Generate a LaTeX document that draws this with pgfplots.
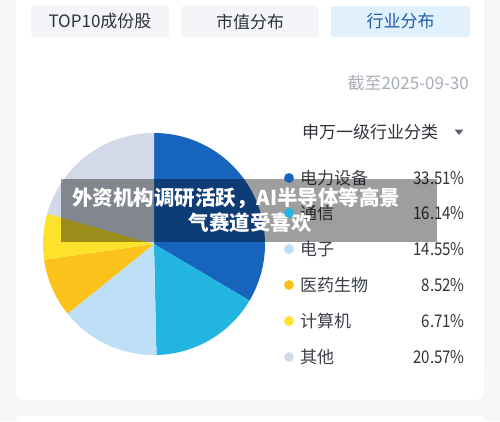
\documentclass[border=0pt]{standalone}
\usepackage{pgfplots}
\pgfplotsset{compat=1.18}
\usepackage{pgfplotstable}
\usepackage{fontspec}
\setmainfont{Noto Sans CJK SC}
\newfontfamily\numfont[FakeStretch=0.86]{Noto Sans CJK SC}
\definecolor{bgc}{HTML}{F5F6F8}
\definecolor{tabc}{HTML}{F3F5F8}
\definecolor{tabsel}{HTML}{E1F0FD}
\definecolor{tabseltxt}{HTML}{1E5BA8}
\definecolor{txt}{HTML}{2E3238}
\definecolor{datec}{HTML}{A8AEB8}
\definecolor{legtxt}{HTML}{3C4048}
\definecolor{numtxt}{HTML}{30343A}
\definecolor{tric}{HTML}{5A6270}
\definecolor{pie0}{HTML}{1764BD}
\definecolor{pie1}{HTML}{22B5E2}
\definecolor{pie2}{HTML}{BEDFF8}
\definecolor{pie3}{HTML}{FBC21C}
\definecolor{pie4}{HTML}{FDE22C}
\definecolor{pie5}{HTML}{D3D9E8}
\pgfplotstableread[col sep=comma]{
label,value,ypos
电力设备,33.51,243
通信,16.14,208
电子,14.55,172
医药生物,8.52,136
计算机,6.71,100
其他,20.57,64
}\piedata
\newcommand{\fs}[1]{\fontsize{#1bp}{#1bp}\selectfont}
\begin{document}
\begin{tikzpicture}
\def\cum{0}
\pgfplotsforeachungrouped \i in {0,...,5}{%
  \pgfplotstablegetelem{\i}{value}\of\piedata
  \let\v\pgfplotsretval
  \pgfmathsetmacro\s{90-3.6*\cum}%
  \pgfmathsetmacro\cum{\cum+\v}%
  \pgfmathsetmacro\e{90-3.6*\cum}%
  \expandafter\xdef\csname pies\i\endcsname{\s}%
  \expandafter\xdef\csname piee\i\endcsname{\e}%
  \expandafter\xdef\csname piev\i\endcsname{\v}%
  \pgfplotstablegetelem{\i}{label}\of\piedata
  \expandafter\xdef\csname piel\i\endcsname{\pgfplotsretval}%
  \pgfplotstablegetelem{\i}{ypos}\of\piedata
  \expandafter\xdef\csname piey\i\endcsname{\pgfplotsretval}%
}
\begin{axis}[x=1bp, y=1bp, xmin=0, xmax=500, ymin=0, ymax=421,
  hide axis, scale only axis, clip=false, at={(0,0)}, anchor=origin]
% background and cards
\fill[bgc] (axis cs:0,0) rectangle (axis cs:500,421);
\fill[white, rounded corners=8bp] (axis cs:16,21) rectangle (axis cs:484,60);
\fill[white] (axis cs:16,40) rectangle (axis cs:484,421);
\fill[white, rounded corners=3bp] (axis cs:16,0) rectangle (axis cs:484,5);
% tabs
\fill[tabc, rounded corners=3bp] (axis cs:31,384) rectangle (axis cs:169,415);
\fill[tabc, rounded corners=3bp] (axis cs:181,384) rectangle (axis cs:319,415);
\fill[tabsel, rounded corners=3bp] (axis cs:331,384) rectangle (axis cs:470,415);
\node[txt, inner sep=0pt] at (axis cs:100,399.5) {\fs{17}TOP10成份股};
\node[txt, inner sep=0pt] at (axis cs:250,399.5) {\fs{17}市值分布};
\node[tabseltxt, inner sep=0pt] at (axis cs:400.5,399.5) {\fs{17}行业分布};
% date
\node[datec, inner sep=0pt, anchor=east] at (axis cs:469,338) {\fs{17}截至2025-09-30};
% legend header
\node[txt, inner sep=0pt, anchor=west] at (axis cs:302,289) {\fs{17}申万一级行业分类};
\fill[tric] (axis cs:454.5,291.5) -- (axis cs:463.5,291.5) -- (axis cs:459,286) -- cycle;
% pie
\pgfplotsinvokeforeach{0,...,5}{
  \fill[pie#1] (axis cs:154,177) -- ++(\csname pies#1\endcsname:111bp)
    arc[start angle=\csname pies#1\endcsname, end angle=\csname piee#1\endcsname, radius=111bp] -- cycle;
  \node[legtxt, inner sep=0pt, anchor=west] at (axis cs:300,\csname piey#1\endcsname) {\fs{17}\csname piel#1\endcsname};
  \node[numtxt, inner sep=0pt, anchor=east] at (axis cs:465,\csname piey#1\endcsname) {\fs{17.5}\numfont\csname piev#1\endcsname\%};
}
\addplot[only marks, mark=*, color=pie0, mark size=4.7pt] coordinates {(289,243)};
\addplot[only marks, mark=*, color=pie1, mark size=4.7pt] coordinates {(289,208)};
\addplot[only marks, mark=*, color=pie2, mark size=4.7pt] coordinates {(289,172)};
\addplot[only marks, mark=*, color=pie3, mark size=4.7pt] coordinates {(289,136)};
\addplot[only marks, mark=*, color=pie4, mark size=4.7pt] coordinates {(289,100)};
\addplot[only marks, mark=*, color=pie5, mark size=4.7pt] coordinates {(289,64)};
% banner overlay
\fill[black, opacity=0.38] (axis cs:61,179.3) rectangle (axis cs:437,242);
\node[white, inner sep=0pt, anchor=west] at (axis cs:72,223) {\fs{20.5}\bfseries 外资机构调研活跃，AI半导体等高景};
\node[white, inner sep=0pt] at (axis cs:250,198) {\fs{20.5}\bfseries 气赛道受喜欢};
\end{axis}
\end{tikzpicture}
\end{document}
